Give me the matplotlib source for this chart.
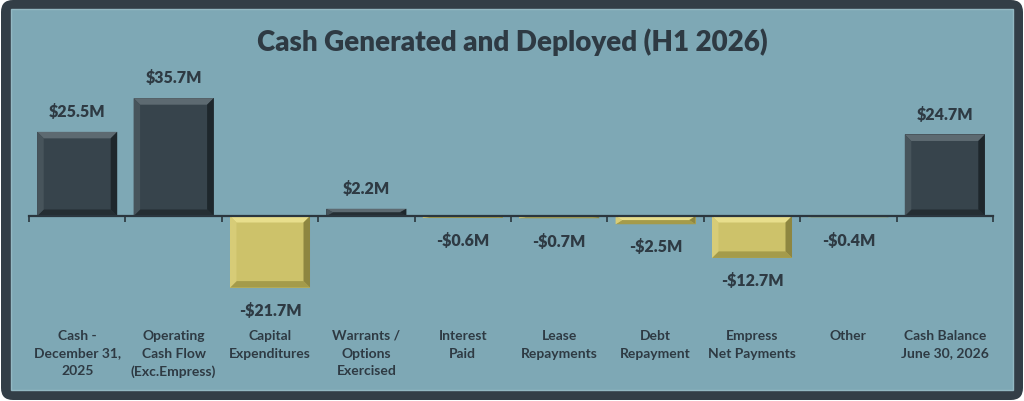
import numpy as np
import matplotlib
matplotlib.use("Agg")
import matplotlib.pyplot as plt
from matplotlib.patches import Polygon, Rectangle, FancyBboxPatch
from matplotlib.transforms import blended_transform_factory

# ── data ────────────────────────────────────────────────────────────────────
categories = [
    "Cash -\nDecember 31,\n2025",
    "Operating\nCash Flow\n(Exc.Empress)",
    "Capital\nExpenditures",
    "Warrants /\nOptions\nExercised",
    "Interest\nPaid",
    "Lease\nRepayments",
    "Debt\nRepayment",
    "Empress\nNet Payments",
    "Other",
    "Cash Balance\nJune 30, 2026",
]
values = [25.5, 35.7, -21.7, 2.2, -0.6, -0.7, -2.5, -12.7, -0.4, 24.7]
value_labels = ["$25.5M", "$35.7M", "-$21.7M", "$2.2M", "-$0.6M",
                "-$0.7M", "-$2.5M", "-$12.7M", "-$0.4M", "$24.7M"]
title = "Cash Generated and Deployed (H1 2026)"

# ── style ───────────────────────────────────────────────────────────────────
BG      = "#7ea8b5"
FRAME   = "#333e47"
TEXT    = "#2e3a43"
DARK    = dict(face="#37444c", top="#5d6a71", left="#47545b",
               right="#1e272c", bottom="#252e33")
GOLD    = dict(face="#cdc26a", top="#e8de8c", left="#d7cc77",
               right="#8e8640", bottom="#a49b4b")
BAR_W   = 0.83
BEVEL   = 6.5        # px
W, H    = 1024, 402

plt.rcParams["font.family"] = ["Lato", "DejaVu Sans"]
plt.rcParams["font.weight"] = "bold"

fig = plt.figure(figsize=(W / 100, H / 100), dpi=100, facecolor="white")

# frame + inner panel, in pixels
fig.patches.append(FancyBboxPatch((1, 1), W - 2, H - 2,
                                  boxstyle="round,pad=0,rounding_size=12",
                                  transform=None, fc=FRAME, ec="none", zorder=-3))
fig.patches.append(Rectangle((11, H - 391), 1013 - 11, 391 - 10,
                             transform=None, fc=BG, ec="#93b8c3", lw=1.0,
                             zorder=-2))

# axes: zero line at y=217px, 3.3 px per $M
ylo, yhi = -30, 40
ppy = 3.3
ax_top = 217 - yhi * ppy
ax_h = (yhi - ylo) * ppy
ax = fig.add_axes([29 / W, 1 - (ax_top + ax_h) / H, (993 - 29) / W, ax_h / H])
ax.set_facecolor("none")
ax.set_xlim(-0.5, len(values) - 0.5)
ax.set_ylim(ylo, yhi)
ppx = (993 - 29) / len(values)

x = np.arange(len(values))
bar_colors = [DARK["face"] if v > 0 else GOLD["face"] for v in values]
ax.bar(x, values, width=BAR_W, color=bar_colors, zorder=2)

# bevel overlays
for xi, v in zip(x, values):
    c = DARK if v > 0 else GOLD
    x0, x1 = xi - BAR_W / 2, xi + BAR_W / 2
    y0, y1 = min(0, v), max(0, v)
    bx = BEVEL / ppx
    by = min(BEVEL / ppy, (y1 - y0) / 2)
    polys = {
        "top":    [(x0, y1), (x1, y1), (x1 - bx, y1 - by), (x0 + bx, y1 - by)],
        "bottom": [(x0, y0), (x1, y0), (x1 - bx, y0 + by), (x0 + bx, y0 + by)],
        "left":   [(x0, y0), (x0, y1), (x0 + bx, y1 - by), (x0 + bx, y0 + by)],
        "right":  [(x1, y0), (x1, y1), (x1 - bx, y1 - by), (x1 - bx, y0 + by)],
    }
    for k, pts in polys.items():
        ax.add_patch(Polygon(pts, closed=True, fc=c[k], ec="none", zorder=3))

# value labels
for xi, v, lab in zip(x, values, value_labels):
    off = 15 if v > 0 else -16
    ax.annotate(lab, (xi, v), xytext=(0, off), textcoords="offset points",
                ha="center", va="center", fontsize=11.5, color=TEXT,
                fontweight="heavy")

# axis
for s in ["top", "right", "left"]:
    ax.spines[s].set_visible(False)
ax.spines["bottom"].set_position(("data", 0))
ax.spines["bottom"].set_color("#2b363e")
ax.spines["bottom"].set_linewidth(1.6)
ax.spines["bottom"].set_zorder(5)
ax.set_yticks([])
ax.set_xticks(np.arange(-0.5, len(values)))
ax.tick_params(axis="x", direction="out", length=4, width=1.2,
               color="#2b363e", labelbottom=False)

trans = blended_transform_factory(ax.transData, fig.transFigure)
for xi, cat in zip(x, categories):
    ax.text(xi, 1 - 330 / H, cat, transform=trans, ha="center", va="top",
            fontsize=10, color=TEXT, fontweight="bold", linespacing=1.55)

fig.text(0.5, 1 - 42 / H, title, ha="center", va="center", fontsize=20,
         color=TEXT, fontweight="heavy")

fig.savefig("out.png", dpi=100, facecolor="white")
